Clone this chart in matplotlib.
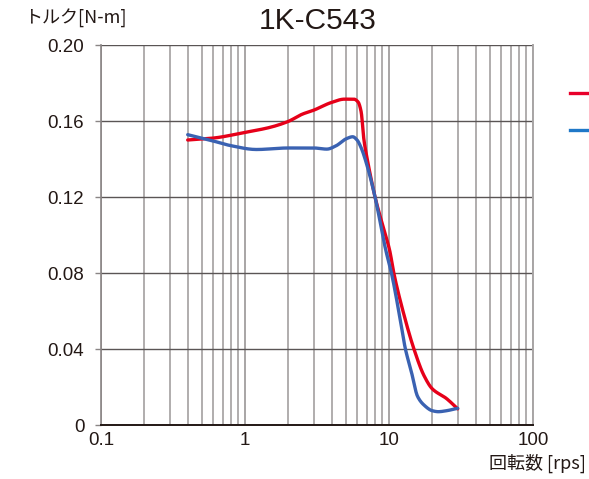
import numpy as np
import matplotlib
matplotlib.use("Agg")
import matplotlib.pyplot as plt
from matplotlib.lines import Line2D
from matplotlib.ticker import FixedLocator, NullFormatter

# Torque curves for 1K-C543 (speed in rps, torque in N-m)
red_speed = [0.4, 0.6, 1.0, 1.5, 2.0, 2.5, 3.0, 4.0, 4.9, 5.7, 6.1, 6.4, 6.7,
             7.1, 8.0, 9.2, 10.1, 10.8, 12.5, 14.9, 17.5, 20.0, 25.0, 30.0]
red_torque = [0.150, 0.151, 0.154, 0.1567, 0.1598, 0.1636, 0.1657, 0.1698,
              0.1715, 0.1715, 0.170, 0.165, 0.150, 0.139, 0.120, 0.103, 0.092,
              0.080, 0.060, 0.040, 0.026, 0.019, 0.014, 0.0085]

blue_speed = [0.4, 0.6, 0.8, 1.2, 2.0, 3.0, 3.7, 4.3, 5.0, 5.6, 6.0, 6.4, 7.1,
              8.0, 9.5, 10.4, 12.0, 13.0, 14.2, 15.8, 17.5, 20.0, 22.0, 25.0, 30.0]
blue_torque = [0.1528, 0.1495, 0.147, 0.145, 0.1458, 0.1458, 0.1452, 0.147,
               0.1505, 0.1517, 0.150, 0.146, 0.1356, 0.120, 0.092, 0.080,
               0.055, 0.040, 0.029, 0.015, 0.0105, 0.0075, 0.007, 0.0075, 0.0088]

x_ticks = [0.1, 1, 10, 100]
x_tick_labels = ["0.1", "1", "10", "100"]
y_ticks = [0, 0.04, 0.08, 0.12, 0.16, 0.20]
y_tick_labels = ["0", "0.04", "0.08", "0.12", "0.16", "0.20"]

title = "1K-C543"
y_label = "トルク[N-m]"
x_label = "回転数 [rps]"

RED = "#e60019"
BLUE = "#3a62b2"


def smooth_path(xs, ys, per_seg=12):
    """Shape-preserving cubic (PCHIP) path through the points, in log-x."""
    lx = np.log10(np.asarray(xs, float))
    y = np.asarray(ys, float)
    h = np.diff(lx)
    d = np.diff(y) / h
    n = len(lx)
    m = np.zeros(n)
    for k in range(1, n - 1):
        if d[k - 1] * d[k] > 0:
            w1 = 2 * h[k] + h[k - 1]
            w2 = h[k] + 2 * h[k - 1]
            m[k] = (w1 + w2) / (w1 / d[k - 1] + w2 / d[k])
    m[0], m[-1] = d[0], d[-1]
    out_x, out_y = [], []
    for k in range(n - 1):
        t = np.linspace(0, 1, per_seg, endpoint=(k == n - 2))
        h00 = 2 * t**3 - 3 * t**2 + 1
        h10 = t**3 - 2 * t**2 + t
        h01 = -2 * t**3 + 3 * t**2
        h11 = t**3 - t**2
        out_x.append(lx[k] + t * h[k])
        out_y.append(h00 * y[k] + h10 * h[k] * m[k] + h01 * y[k + 1] + h11 * h[k] * m[k + 1])
    return 10 ** np.concatenate(out_x), np.concatenate(out_y)


plt.rcParams["font.family"] = ["Liberation Sans", "Noto Sans CJK JP", "DejaVu Sans"]

W, H = 589, 479
fig = plt.figure(figsize=(W / 100, H / 100), dpi=100)
ax = fig.add_axes([101 / W, (H - 425) / H, (533 - 101) / W, (425 - 45) / H])

ax.set_xscale("log")
ax.set_xlim(0.1, 100)
ax.set_ylim(0, 0.20)

# grid: every decade subdivision vertically, every 0.04 horizontally
minor = [m * 10.0 ** e for e in (-1, 0, 1) for m in range(2, 10)]
ax.xaxis.set_major_locator(FixedLocator(x_ticks))
ax.xaxis.set_minor_locator(FixedLocator(minor))
ax.xaxis.set_minor_formatter(NullFormatter())
ax.set_xticks(x_ticks, x_tick_labels)
ax.set_yticks(y_ticks, y_tick_labels)

ax.grid(True, which="major", axis="x", color="#a8a5a5", lw=1.4)
ax.grid(True, which="minor", axis="x", color="#b0adad", lw=1.4)
ax.grid(True, which="major", axis="y", color="#5a5555", lw=1.0)

ax.tick_params(axis="x", which="both", length=0, labelsize=13.5, pad=5, colors="#231815")
ax.tick_params(axis="y", length=4, width=1.0, color="#8a8585", labelsize=13.5,
               pad=8, labelcolor="#231815")

ax.spines["top"].set_visible(False)
ax.spines["left"].set_color("#8a8585")
ax.spines["left"].set_linewidth(1.2)
ax.spines["right"].set_color("#a8a5a5")
ax.spines["right"].set_linewidth(1.4)
ax.spines["bottom"].set_color("#231815")
ax.spines["bottom"].set_linewidth(1.4)

rx, ry = smooth_path(red_speed, red_torque)
bx, by = smooth_path(blue_speed, blue_torque)
ax.plot(rx, ry, color=RED, lw=2.4, solid_capstyle="round",
        solid_joinstyle="round", zorder=3)
ax.plot(bx, by, color=BLUE, lw=2.4, solid_capstyle="round",
        solid_joinstyle="round", zorder=4)

fig.text(317.5 / W, 1 - 21 / H, title, ha="center", va="center", fontsize=21.5,
         color="#231815")
fig.text(24 / W, 1 - 18 / H, y_label, ha="left", va="center", fontsize=13,
         color="#231815", family=["Noto Sans CJK JP", "DejaVu Sans"])
fig.text(586 / W, 1 - 463 / H, x_label, ha="right", va="center", fontsize=13,
         color="#231815", family=["Noto Sans CJK JP", "DejaVu Sans"])

# legend keys running off the right edge
fig.add_artist(Line2D([570 / W, 1.01], [1 - 93 / H] * 2, color="#e8002a",
                      lw=2.4, transform=fig.transFigure))
fig.add_artist(Line2D([570 / W, 1.01], [1 - 130 / H] * 2, color="#1f78c8",
                      lw=2.4, transform=fig.transFigure))

fig.savefig("out.png", dpi=100, facecolor="white")
